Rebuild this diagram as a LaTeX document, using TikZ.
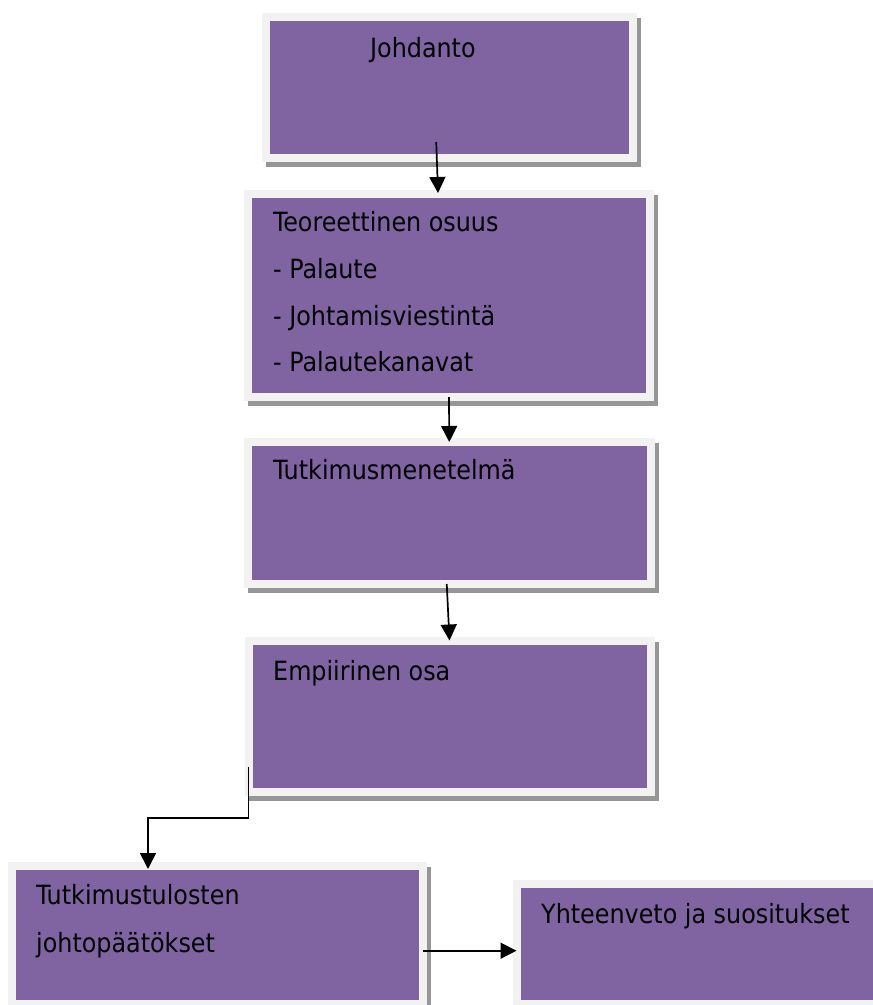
\documentclass[tikz,border=0pt]{standalone}
\usepackage{fontspec}
\setmainfont{DejaVu Sans Condensed}
\usetikzlibrary{arrows.meta, shadows}
\definecolor{stagepurple}{HTML}{8064A2}
\definecolor{framegray}{HTML}{F2F2F2}
\definecolor{shadowgray}{HTML}{969696}

\begin{document}
\begin{tikzpicture}[x=1pt, y=-1pt,
  stagebox/.style={rectangle, fill=stagepurple, draw=framegray, line width=8pt, inner sep=0pt, outer sep=0pt,
    general shadow={fill=shadowgray, draw=shadowgray, line width=8pt, shadow xshift=4pt, shadow yshift=-5pt}},
  stagetext/.style={anchor=base west, inner sep=0pt, font=\fontsize{26.5}{31}\selectfont},
  flow/.style={-{Triangle[width=16pt,length=16pt]}, line width=1.7pt}]
  \useasboundingbox (0,0) rectangle (873,1005);
  % Boxes
  \node[stagebox, minimum width=366.5pt, minimum height=141pt] (b1) at (449.25,87.5) {};
  \node[stagebox, minimum width=402pt, minimum height=203pt] (b2) at (449,295.5) {};
  \node[stagebox, minimum width=402.5pt, minimum height=142pt] (b3) at (449.25,513) {};
  \node[stagebox, minimum width=402pt, minimum height=151.5pt] (b4) at (449.5,716.25) {};
  \node[stagebox, minimum width=411pt, minimum height=138pt] (b5) at (217,935) {};
  \node[stagebox, minimum width=368.5pt, minimum height=120pt] (b6) at (700.75,944) {};
  % Texts
  \node[stagetext] (t1) at (370,57.7) {Johdanto};
  \node[stagetext] (t2) at (273,231.7) {Teoreettinen osuus};
  \node[stagetext] (t2a) at (273,278.4) {- Palaute};
  \node[stagetext] (t2b) at (273,325) {- Johtamisviestintä};
  \node[stagetext] (t2c) at (273,371.7) {- Palautekanavat};
  \node[stagetext] (t3) at (273,479) {Tutkimusmenetelmä};
  \node[stagetext] (t4) at (273,680.7) {Empiirinen osa};
  \node[stagetext] (t5) at (36,904) {Tutkimustulosten};
  \node[stagetext] (t5a) at (36,952) {johtopäätökset};
  \node[stagetext] (t6) at (541,923) {Yhteenveto ja suositukset};
  % Arrows
  \coordinate (bend) at (148,818);
  \draw[flow] ([xshift=-13pt,yshift=16pt]b1.south) -- ([xshift=-11pt,yshift=1pt]b2.north);
  \draw[flow] (b2.south) -- (b3.north);
  \draw[flow] ([xshift=-2.5pt]b3.south) -- (b4.north);
  \draw[flow] ([yshift=-50.75pt]b4.west) |- (bend) -- ([xshift=-69pt,yshift=-3pt]b5.north);
  \draw[flow] ([yshift=-15.7pt]b5.east) -- ([yshift=-6.7pt]b6.west);
\end{tikzpicture}
\end{document}
